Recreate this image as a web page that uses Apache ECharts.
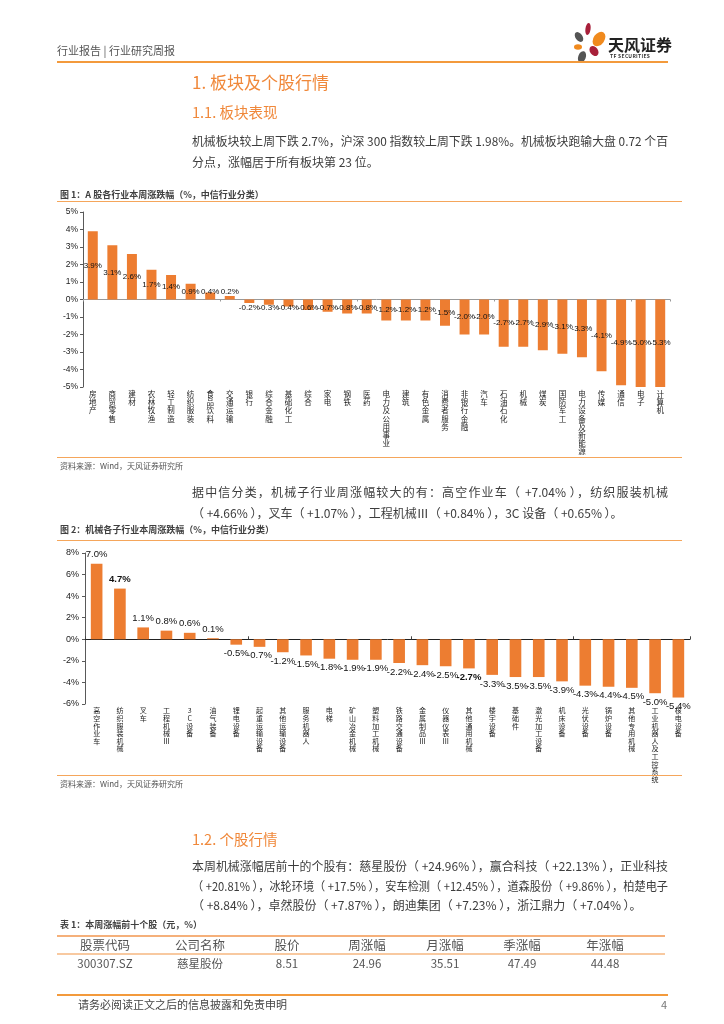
<!DOCTYPE html>
<html><head><meta charset="utf-8">
<script src="https://cdn.jsdelivr.net/npm/echarts@6/dist/echarts.min.js"></script>
<style>
html,body{margin:0;padding:0;background:#fff;}
#page{position:relative;width:724px;height:1024px;overflow:hidden;font-family:"Noto Sans CJK SC","Noto Sans",sans-serif;}
#chart{position:absolute;left:0;top:0;width:724px;height:1024px;}
.t{position:absolute;white-space:nowrap;z-index:2;}
.ln{position:absolute;z-index:2;}
.body{font-size:12px;color:#3c3c3c;height:20px;line-height:20px;left:192px;}
.h1{font-size:17px;color:#F0883A;left:192px;height:24px;line-height:24px;}
.h2{font-size:14.5px;color:#F0883A;left:192px;height:20px;line-height:20px;}
.ft{font-size:9px;font-weight:bold;color:#404040;left:60px;height:12px;line-height:12px;}
.src{font-size:8px;color:#555;left:60px;height:12px;line-height:12px;}
.th{font-size:12.5px;color:#555;height:16px;line-height:16px;transform:translateX(-50%);}
.td{font-size:11.5px;color:#555;height:16px;line-height:16px;transform:translateX(-50%);}
</style></head>
<body>
<div id="page">
<div id="chart"></div>

<div class="t" style="left:57px;top:43px;font-size:11px;color:#555;line-height:14px;">行业报告 | 行业研究周报</div>
<svg class="t" style="left:566px;top:18px;" width="46" height="48" viewBox="566 18 46 48">
  <ellipse cx="588" cy="29" rx="2.6" ry="6" fill="#A8203A" transform="rotate(8 588 29)"/>
  <ellipse cx="599" cy="39" rx="5.5" ry="8" fill="#F08A1E" transform="rotate(35 599 39)"/>
  <ellipse cx="579" cy="37" rx="3.5" ry="5.5" fill="#555" transform="rotate(-35 579 37)"/>
  <ellipse cx="578" cy="47" rx="4" ry="2.8" fill="#F08A1E"/>
  <ellipse cx="594" cy="51" rx="4" ry="5.5" fill="#A8203A" transform="rotate(-35 594 51)"/>
  <ellipse cx="582" cy="57" rx="3.8" ry="6" fill="#555" transform="rotate(20 582 57)"/>
</svg>
<div class="t" style="left:608px;top:34px;font-size:16px;font-weight:bold;color:#222;line-height:20px;">天风证券</div>
<div class="t" style="left:610px;top:53px;font-size:5px;font-weight:bold;color:#333;line-height:6px;letter-spacing:0.3px;">TF SECURITIES</div>
<div class="ln" style="left:57px;top:61px;width:611px;height:2px;background:#F39A3C;"></div>

<div class="t h1" style="top:70px;">1. 板块及个股行情</div>
<div class="t h2" style="top:102px;">1.1. 板块表现</div>
<div class="t body just" style="top:131px;">机械板块较上周下跌 2.7%，沪深 300 指数较上周下跌 1.98%。机械板块跑输大盘 0.72 个百</div>
<div class="t body" style="top:152px;">分点，涨幅居于所有板块第 23 位。</div>

<div class="t ft" style="top:189px;">图 1：A 股各行业本周涨跌幅（%，中信行业分类）</div>
<div class="ln" style="left:57px;top:201px;width:625px;height:1px;background:#F5A65B;"></div>
<div class="ln" style="left:57px;top:457px;width:625px;height:1px;background:#F5A65B;"></div>
<div class="t src" style="top:460px;">资料来源：Wind，天风证券研究所</div>

<div class="t body just" style="top:482px;">据中信分类，机械子行业周涨幅较大的有：高空作业车（ +7.04% ），纺织服装机械</div>
<div class="t body" style="top:503px;">（ +4.66% ），叉车（ +1.07% ），工程机械Ⅲ（ +0.84% ），3C 设备（ +0.65% ）。</div>

<div class="t ft" style="top:524px;">图 2：机械各子行业本周涨跌幅（%，中信行业分类）</div>
<div class="ln" style="left:57px;top:540px;width:625px;height:1px;background:#F5A65B;"></div>
<div class="ln" style="left:57px;top:775px;width:625px;height:1px;background:#F5A65B;"></div>
<div class="t src" style="top:778px;">资料来源：Wind，天风证券研究所</div>

<div class="t h2" style="top:829px;">1.2. 个股行情</div>
<div class="t body just" style="top:856px;">本周机械涨幅居前十的个股有：慈星股份（ +24.96% ），赢合科技（ +22.13% ），正业科技</div>
<div class="t body just" style="top:876px;">（ +20.81% ），冰轮环境（ +17.5% ），安车检测（ +12.45% ），道森股份（ +9.86% ），柏楚电子</div>
<div class="t body" style="top:895px;">（ +8.84% ），卓然股份（ +7.87% ），朗迪集团（ +7.23% ），浙江鼎力（ +7.04% ）。</div>

<div class="t ft" style="top:919px;">表 1：本周涨幅前十个股（元，%）</div>
<div class="ln" style="left:57px;top:935px;width:608px;height:2px;background:#F5B07A;"></div>
<div id="thead"></div>
<div class="ln" style="left:57px;top:953px;width:608px;height:2px;background:#F8C9A0;"></div>
<div id="trow"></div>

<div class="ln" style="left:57px;top:994px;width:611px;height:2px;background:#F39A3C;"></div>
<div class="t" style="left:78px;top:996px;font-size:11px;color:#444;line-height:16px;">请务必阅读正文之后的信息披露和免责申明</div>
<div class="t" style="left:661px;top:996px;font-size:11px;color:#777;line-height:16px;">4</div>
</div>

<script>
// ---- data ----
const cats1 = ['房地产','商贸零售','建材','农林牧渔','轻工制造','纺织服装','食品饮料','交通运输','银行','综合金融','基础化工','综合','家电','钢铁','医药','电力及公用事业','建筑','有色金属','消费者服务','非银行金融','汽车','石油石化','机械','煤炭','国防军工','电力设备及新能源','传媒','通信','电子','计算机'];
const vals1 = [3.9,3.1,2.6,1.7,1.4,0.9,0.4,0.2,-0.2,-0.3,-0.4,-0.6,-0.7,-0.8,-0.8,-1.2,-1.2,-1.2,-1.5,-2.0,-2.0,-2.7,-2.7,-2.9,-3.1,-3.3,-4.1,-4.9,-5.0,-5.3];

const cats2 = ['高空作业车','纺织服装机械','叉车','工程机械Ⅲ','3C设备','油气装备','锂电设备','起重运输设备','其他运输设备','服务机器人','电梯','矿山冶金机械','塑料加工机械','铁路交通设备','金属制品Ⅲ','仪器仪表Ⅲ','其他通用机械','楼宇设备','基础件','激光加工设备','机床设备','光伏设备','锅炉设备','其他专用机械','工业机器人及工控系统','核电设备'];
const vals2 = [7.0,4.7,1.1,0.8,0.6,0.1,-0.5,-0.7,-1.2,-1.5,-1.8,-1.9,-1.9,-2.2,-2.4,-2.5,-2.7,-3.3,-3.5,-3.5,-3.9,-4.3,-4.4,-4.5,-5.0,-5.4];

const tableHead = ['股票代码','公司名称','股价','周涨幅','月涨幅','季涨幅','年涨幅'];
const tableRow1 = ['300307.SZ','慈星股份','8.51','24.96','35.51','47.49','44.48'];

// ---- table (layout) ----
const colX = [105,200,287,367,445,522,605];
document.getElementById('thead').innerHTML = tableHead.map((s,i)=>`<div class="t th" style="left:${colX[i]}px;top:937px;">${s}</div>`).join('');
document.getElementById('trow').innerHTML = tableRow1.map((s,i)=>`<div class="t td" style="left:${colX[i]}px;top:955px;">${s}</div>`).join('');

// ---- fit justified body lines to the text column ----
const COLW = 476;
document.querySelectorAll('.just').forEach(el => {
  const w = el.getBoundingClientRect().width;
  if (w > COLW) {
    el.style.transformOrigin = 'left center';
    el.style.transform = 'scaleX(' + (COLW / w) + ')';
  } else {
    el.style.width = COLW + 'px';
    el.style.textAlign = 'justify';
    el.style.textAlignLast = 'justify';
  }
});

// ---- chart ----
const ORANGE = '#ED7D31';
const boldLabels2 = ['纺织服装机械','其他通用机械'];
const pct = v => v.toFixed(1) + '%';
const vert = s => String(s).split('').join('\n');

const data1 = vals1.map(v => ({
  value: v,
  label: { position: Math.abs(v) < 1 ? (v >= 0 ? 'insideBottom' : 'insideTop') : 'inside', distance: 4 }
}));
const data2 = vals2.map((v, i) => ({
  value: v,
  label: { position: v >= 0 ? 'top' : 'bottom', distance: 4, fontWeight: boldLabels2.includes(cats2[i]) ? 'bold' : 'normal' }
}));

const axisCol = '#595959';
const chart = echarts.init(document.getElementById('chart'), null, {renderer: 'canvas'});
chart.setOption({
  animation: false,
  textStyle: { fontFamily: 'Noto Sans CJK SC' },
  grid: [
    { left: 83, right: 54, top: 212, height: 175 },
    { left: 85, right: 34, top: 553, height: 151 }
  ],
  xAxis: [
    { type: 'category', gridIndex: 0, data: cats1, position: 'bottom',
      axisLine: { show: false, onZero: false }, axisTick: { show: false },
      axisLabel: { interval: 0, formatter: vert, fontSize: 7.5, lineHeight: 8.2, color: '#222', margin: 3 } },
    { type: 'category', gridIndex: 0, data: cats1, position: 'top',
      axisLine: { show: true, onZero: true, lineStyle: { color: '#999', width: 1 } },
      axisTick: { show: true, inside: true, length: 2, lineStyle: { color: '#999' } }, axisLabel: { show: false } },
    { type: 'category', gridIndex: 1, data: cats2, position: 'bottom',
      axisLine: { show: false, onZero: false }, axisTick: { show: false },
      axisLabel: { interval: 0, formatter: vert, fontSize: 7, lineHeight: 7.6, color: '#222', margin: 3 } },
    { type: 'category', gridIndex: 1, data: cats2, position: 'top',
      axisLine: { show: true, onZero: true, lineStyle: { color: '#222', width: 1 } },
      axisTick: { show: true, inside: false, length: 3, lineStyle: { color: '#444' } }, axisLabel: { show: false } }
  ],
  yAxis: [
    { type: 'value', gridIndex: 0, min: -5, max: 5, interval: 1,
      axisLine: { show: true, lineStyle: { color: axisCol } },
      axisTick: { show: true, length: 3, lineStyle: { color: axisCol } },
      splitLine: { show: false },
      axisLabel: { formatter: '{value}%', fontSize: 8.5, color: '#222', margin: 5, fontFamily: 'Liberation Sans' } },
    { type: 'value', gridIndex: 1, min: -6, max: 8, interval: 2,
      axisLine: { show: true, lineStyle: { color: axisCol } },
      axisTick: { show: true, length: 3, lineStyle: { color: axisCol } },
      splitLine: { show: false },
      axisLabel: { formatter: '{value}%', fontSize: 9, color: '#222', margin: 6, fontFamily: 'Liberation Sans' } }
  ],
  series: [
    { type: 'bar', xAxisIndex: 0, yAxisIndex: 0, data: data1, barWidth: '51%',
      itemStyle: { color: ORANGE },
      label: { show: true, formatter: p => pct(p.value), fontSize: 8, color: '#111', fontFamily: 'Liberation Sans' } },
    { type: 'bar', xAxisIndex: 2, yAxisIndex: 1, data: data2, barWidth: '50%',
      itemStyle: { color: ORANGE },
      label: { show: true, formatter: p => pct(p.value), fontSize: 9.5, color: '#111', fontFamily: 'Liberation Sans' } }
  ]
});
</script>
</body></html>
